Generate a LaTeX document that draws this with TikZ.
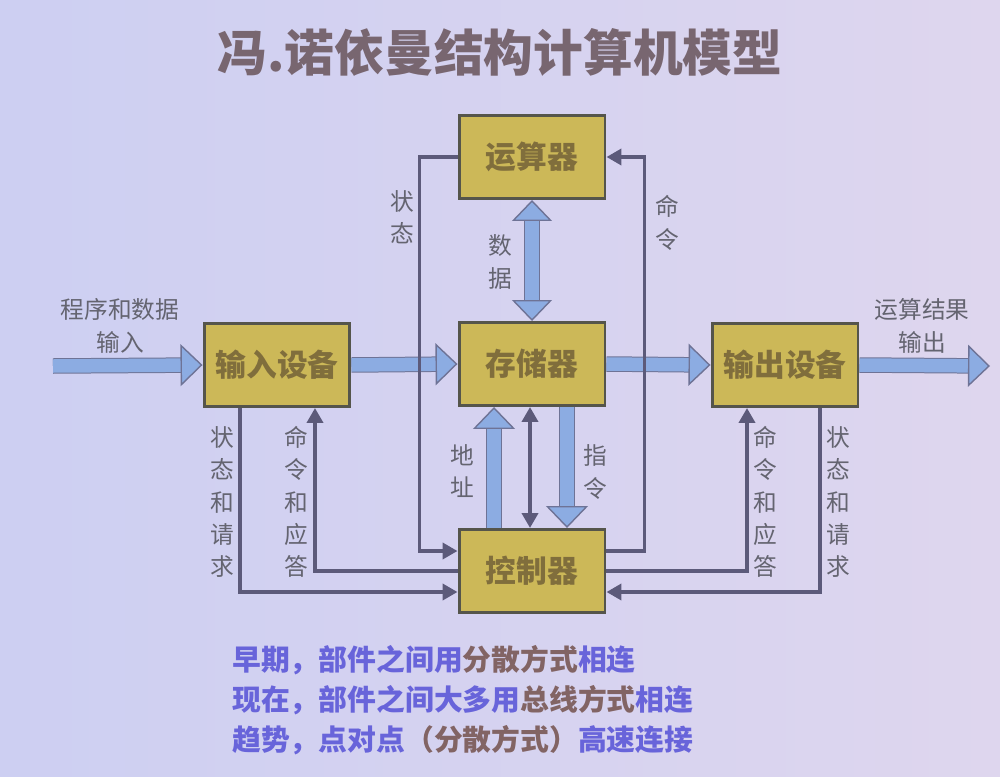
\documentclass[tikz,border=0pt]{standalone}
\usepackage{fontspec}
\setmainfont{Noto Sans CJK SC}
\usetikzlibrary{arrows.meta}
\definecolor{bgleft}{RGB}{205,207,242}
\definecolor{bgright}{RGB}{222,214,238}
\definecolor{boxfill}{RGB}{204,184,88}
\definecolor{boxedge}{RGB}{85,85,75}
\definecolor{boxtext}{RGB}{128,110,60}
\definecolor{wirecol}{RGB}{92,90,122}
\definecolor{fatblue}{RGB}{140,172,226}
\definecolor{fatedge}{RGB}{110,115,150}
\definecolor{labeltext}{RGB}{100,100,112}
\definecolor{titletext}{RGB}{120,102,112}
\definecolor{noteblue}{RGB}{104,100,218}
\definecolor{notebrown}{RGB}{130,100,100}

\begin{document}
\begin{tikzpicture}[x=0.02cm, y=-0.02cm,
  unit/.style={shape=rectangle, draw=boxedge, line width=1.7pt, fill=boxfill, text=boxtext,
    minimum width=2.92cm, minimum height=1.66cm, font=\fontsize{17.5}{20}\selectfont\bfseries},
  lbl/.style={text=labeltext, align=center, inner sep=0pt, font=\fontsize{13.5}{18.4}\selectfont},
  note/.style={anchor=west, inner sep=0pt, text=noteblue, font=\fontsize{16.4}{20}\selectfont\bfseries},
  wire/.style={draw=wirecol, line width=2.2pt, -{Triangle[length=0.3cm,width=0.32cm]}},
  wireboth/.style={draw=wirecol, line width=2.2pt, {Triangle[length=0.3cm,width=0.32cm]}-{Triangle[length=0.3cm,width=0.32cm]}},
  fat/.style={draw=fatblue, line width=0.27cm,
    -{Triangle[length=0.44cm,width=0.84cm,line width=0.8pt,fill=fatblue,color=fatedge]},
    preaction={draw=fatedge, line width=0.31cm, -, shorten >=0.38cm}},
  fatboth/.style={draw=fatblue, line width=0.27cm,
    {Triangle[length=0.42cm,width=0.8cm,line width=0.8pt,fill=fatblue,color=fatedge]}-{Triangle[length=0.42cm,width=0.8cm,line width=0.8pt,fill=fatblue,color=fatedge]},
    preaction={draw=fatedge, line width=0.31cm, -, shorten >=0.36cm, shorten <=0.36cm}}]
\useasboundingbox (0,0) rectangle (1000,777);
\shade[left color=bgleft, right color=bgright] (0,0) rectangle (1000,777);

\node[text=titletext, font=\fontsize{28.3}{32}\selectfont\bfseries] (T) at (500,52) {冯.诺依曼结构计算机模型};

% units
\node[unit] (ALU) at (532,157) {运算器};
\node[unit] (MEM) at (532,364) {存储器};
\node[unit] (CU) at (532,571) {控制器};
\node[unit] (IN) at (277,365) {输入设备};
\node[unit] (OUT) at (785,365) {输出设备};
\coordinate (src) at (53,366);
\coordinate (dst) at (990,366);

% data paths
\draw[fat] (src) -- (IN.west);
\draw[fat] (IN.east) -- (MEM.west);
\draw[fat] (MEM.east) -- (OUT.west);
\draw[fat] (OUT.east) -- (dst);
\draw[fatboth] (ALU.south) -- (MEM.north);
\draw[fat] ([xshift=-0.76cm]CU.north) -- ([xshift=-0.76cm]MEM.south);
\draw[fat] ([xshift=0.7cm]MEM.south) -- ([xshift=0.7cm]CU.north);
\draw[wireboth] ([xshift=-0.04cm]MEM.south) -- ([xshift=-0.04cm]CU.north);

% control lines
\draw[wire] (ALU.west) -- ++(-38,0) |- ([yshift=0.4cm]CU.west);
\draw[wire] ([yshift=0.4cm]CU.east) -- ++(38,0) |- (ALU.east);
\draw[wire] ([xshift=-0.74cm]IN.south) |- ([yshift=-0.42cm]CU.west);
\draw[wire] (CU.west) -| ([xshift=0.76cm]IN.south);
\draw[wire] (CU.east) -| ([xshift=-0.76cm]OUT.south);
\draw[wire] ([xshift=0.7cm]OUT.south) |- ([yshift=-0.42cm]CU.east);

% labels
\node[lbl] (l1) at (120,326) {程序和数据\\输入};
\node[lbl] (l2) at (922,326) {运算结果\\输出};
\node[lbl] (l3) at (402,217) {状\\态};
\node[lbl] (l4) at (667,223) {命\\令};
\node[lbl] (l5) at (500,262) {数\\据};
\node[lbl] (l6) at (222,502) {状\\态\\和\\请\\求};
\node[lbl] (l7) at (296,502) {命\\令\\和\\应\\答};
\node[lbl] (l8) at (462,471) {地\\址};
\node[lbl] (l9) at (595,472) {指\\令};
\node[lbl] (l10) at (765,502) {命\\令\\和\\应\\答};
\node[lbl] (l11) at (838,502) {状\\态\\和\\请\\求};

% notes
\node[note] (N1) at (232,660) {早期，部件之间用\textcolor{notebrown}{分散方式}相连};
\node[note] (N2) at (232,700) {现在，部件之间大多用\textcolor{notebrown}{总线方式}相连};
\node[note] (N3) at (232,740) {趋势，点对点\textcolor{notebrown}{（分散方式）}高速连接};
\end{tikzpicture}
\end{document}
